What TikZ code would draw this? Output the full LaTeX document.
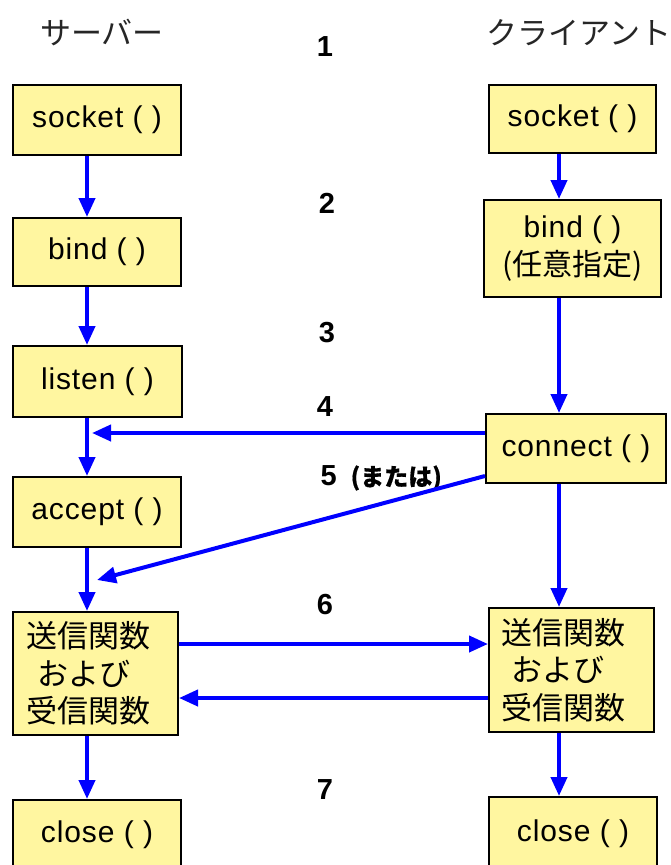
\documentclass[tikz,border=0pt]{standalone}
\usepackage{fontspec}
\setmainfont{Liberation Sans}[LetterSpace=3]
\newfontfamily\cjk{Noto Sans CJK JP}
\newfontfamily\cjkb{Noto Sans CJK JP}[FakeBold=0.5]
\usetikzlibrary{arrows.meta}
\definecolor{boxfill}{RGB}{255,246,160}
\definecolor{arrblue}{RGB}{0,0,255}
\begin{document}
\begin{tikzpicture}[x=1pt,y=-1pt,
  box/.style={draw=black,line width=2pt,fill=boxfill,inner sep=0pt,
    font=\fontsize{30}{38}\selectfont},
  jbox/.style={box,text width=137pt,align=left,inner xsep=14pt,
    font=\cjk\fontsize{31}{37.5}\selectfont},
  arr/.style={draw=arrblue,line width=4pt,-{Triangle[length=19pt,width=16pt]}},
  num/.style={font=\bfseries\fontsize{29}{30}\selectfont},
  head/.style={font=\cjk\fontsize{31}{36}\selectfont,text=black!85}
]
\useasboundingbox (0,0) rectangle (671,865);

% column coordinates
\coordinate (sx) at (87,0);
\coordinate (cx) at (559,0);

% headings and step numbers
\node[head] (hserver) at (102,33) {サーバー};
\node[head,anchor=west] (hclient) at (483,33) {クライアント};
\node[num] (n1) at (325,47) {1};
\node[num] (n2) at (327,203) {2};
\node[num] (n3) at (327,333) {3};
\node[num] (n4) at (325,407) {4};
\node[num,anchor=west] (n5) at (317,478) {5\hspace{14pt}{\cjkb\fontsize{24}{26}\selectfont (または)}};
\node[num] (n6) at (325,605) {6};
\node[num] (n7) at (325,790) {7};

% server boxes
\node[box,minimum width=168pt,minimum height=70pt] (ssock) at (97,120) {socket ( )};
\node[box,minimum width=168pt,minimum height=68pt] (sbind) at (97,252) {bind ( )};
\node[box,minimum width=169pt,minimum height=71pt] (slist) at (97.5,381.5) {listen ( )};
\node[box,minimum width=168pt,minimum height=70pt] (sacc) at (97,512) {accept ( )};
\node[jbox,minimum width=165pt,minimum height=123pt] (ssend) at (95.5,673.5) {送信関数\\\hspace*{10pt}および\\受信関数};
\node[box,minimum width=168pt,minimum height=70pt] (sclose) at (97,835) {close ( )};

% client boxes
\node[box,minimum width=167pt,minimum height=68pt] (csock) at (572.5,119) {socket ( )};
\node[box,minimum width=177pt,minimum height=97pt,align=center] (cbind) at (572.5,248.5) {bind ( )\\{\cjk (任意指定)}};
\node[box,minimum width=180pt,minimum height=69pt] (conn) at (576,448.5) {connect ( )};
\node[jbox,minimum width=165pt,minimum height=124pt,inner xsep=12pt,text width=141pt] (csend) at (571.5,670) {送信関数\\\hspace*{10pt}および\\受信関数};
\node[box,minimum width=168pt,minimum height=73pt] (cclose) at (573,833.5) {close ( )};

% server flow
\draw[arr] (ssock.south -| sx) -- (sbind.north -| sx);
\draw[arr] (sbind.south -| sx) -- (slist.north -| sx);
\draw[arr] (slist.south -| sx) -- (sacc.north -| sx);
\draw[arr] (sacc.south -| sx) -- (ssend.north -| sx);
\draw[arr] (ssend.south -| sx) -- (sclose.north -| sx);

% client flow
\draw[arr] (csock.south -| cx) -- (cbind.north -| cx);
\draw[arr] (cbind.south -| cx) -- (conn.north -| cx);
\draw[arr] (conn.south -| cx) -- (csend.north -| cx);
\draw[arr] (csend.south -| cx) -- (cclose.north -| cx);

% connect to server
\coordinate (a4end) at (92,433);
\coordinate (a5end) at (97,580);
\draw[arr] (conn.west |- a4end) -- (a4end);
\draw[arr] ([yshift=8pt]conn.south west) -- (a5end);

% send / receive
\coordinate (sendy) at (0,644);
\coordinate (recvy) at (0,698);
\draw[arr] (ssend.east |- sendy) -- (csend.west |- sendy);
\draw[arr] (csend.west |- recvy) -- (ssend.east |- recvy);
\end{tikzpicture}
\end{document}
